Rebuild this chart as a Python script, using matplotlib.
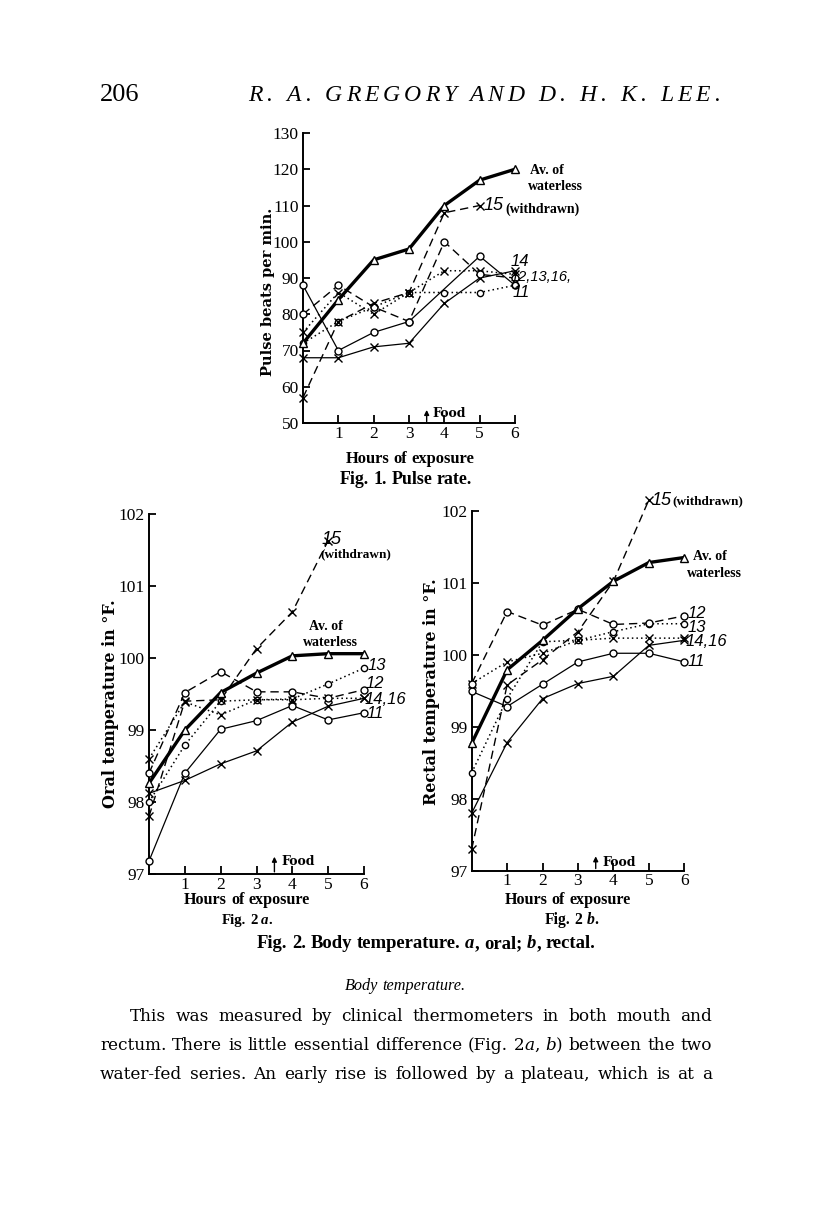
import re
import matplotlib
matplotlib.use("Agg")
import matplotlib.pyplot as plt

W, H = 816, 1221
plt.rcParams['font.family'] = ['Liberation Serif', 'DejaVu Serif']
WIDE = ['DejaVu Serif']
NARROW = ['Liberation Serif']

# ------------------------------------------------------------------ data
hours = [0, 1, 2, 3, 4, 5, 6]
hours_to5 = [0, 1, 2, 3, 4, 5]
hours_skip4 = [0, 1, 2, 3, 5, 6]
hour_ticks = [1, 2, 3, 4, 5, 6]

# Fig. 1  pulse rate (beats per min.)
pulse_ticks = [50, 60, 70, 80, 90, 100, 110, 120, 130]
pulse_av = [72, 84, 95, 98, 110, 117, 120]
pulse_15 = [57, 78, 83, 86, 108, 110]
pulse_12 = [80, 88, 82, 78, 100, 91, 90]
pulse_11 = [88, 70, 75, 78, 96, 88]
pulse_14 = [68, 68, 71, 72, 83, 90, 92]
pulse_16 = [75, 86, 80, 86, 92, 92, 91]
pulse_13 = [72, 78, 82, 86, 86, 86, 88]

# Fig. 2a  oral temperature (deg F)
temp_ticks = [97, 98, 99, 100, 101, 102]
oral_av = [98.26, 99.0, 99.52, 99.79, 100.03, 100.06, 100.06]
oral_15 = [97.8, 99.4, 99.42, 100.13, 100.64, 101.63]
oral_12 = [98.4, 99.52, 99.81, 99.53, 99.53, 99.44, 99.56]
oral_13 = [98.0, 98.79, 99.4, 99.42, 99.43, 99.64, 99.86]
oral_16 = [98.6, 99.39, 99.21, 99.42, 99.42, 99.44, 99.44]
oral_14 = [98.12, 98.3, 98.53, 98.71, 99.11, 99.33, 99.44]
oral_11 = [97.18, 98.4, 99.01, 99.13, 99.34, 99.14, 99.24]

# Fig. 2b  rectal temperature (deg F)
rect_av = [98.77, 99.79, 100.2, 100.64, 101.02, 101.28, 101.35]
rect_15 = [97.3, 99.58, 99.93, 100.32, 101.02, 102.15]
rect_12 = [99.6, 100.6, 100.41, 100.63, 100.42, 100.44, 100.54]
rect_13 = [98.36, 99.39, 100.18, 100.2, 100.32, 100.43, 100.43]
rect_16 = [99.6, 99.9, 100.02, 100.2, 100.23, 100.23, 100.23]
rect_11 = [99.49, 99.28, 99.59, 99.9, 100.02, 100.02, 99.9]
rect_14 = [97.8, 98.78, 99.39, 99.6, 99.7, 100.13, 100.2]

# ------------------------------------------------------------------ figure
fig = plt.figure(figsize=(W / 100, H / 100), dpi=100)
fig.patch.set_facecolor('white')
renderer = fig.canvas.get_renderer()

DASH = (0, (6, 3.5))
DOT = (0, (1, 2))
STY = {
    'av': dict(linestyle='-', lw=2.4, marker='^', ms=6, mfc='white', zorder=5),
    '15': dict(linestyle=DASH, lw=1.0, marker='x', ms=6, zorder=4),
    'dash_o': dict(linestyle=DASH, lw=1.0, marker='o', ms=5, mfc='white', zorder=4),
    'dot_o': dict(linestyle=DOT, lw=1.1, marker='o', ms=4.5, mfc='white', zorder=4),
    'dot_x': dict(linestyle=DOT, lw=1.1, marker='x', ms=6, zorder=4),
    'sol_o': dict(linestyle='-', lw=0.9, marker='o', ms=5, mfc='white', zorder=4),
    'sol_x': dict(linestyle='-', lw=0.9, marker='x', ms=6, zorder=4),
}


def series(ax, x, y, key):
    kw = dict(STY[key])
    ax.plot(x, y, color='black', mec='black', mew=1.0, clip_on=False, **kw)


def make_axes(x0, x6, ytop, ybot, ylim, yticks):
    ax = fig.add_axes([x0 / W, 1 - ybot / H, (x6 - x0) / W, (ybot - ytop) / H])
    ax.set_xlim(0, 6)
    ax.set_ylim(*ylim)
    ax.patch.set_alpha(0)
    for s in ('top', 'right'):
        ax.spines[s].set_visible(False)
    for s in ('left', 'bottom'):
        ax.spines[s].set_linewidth(1.4)
    ax.set_xticks(hour_ticks)
    ax.set_xticklabels([str(h) for h in hour_ticks])
    ax.set_yticks(yticks)
    ax.set_yticklabels([str(v) for v in yticks])
    ax.tick_params(axis='y', direction='in', length=5, width=1.3, pad=3, labelsize=12.5)
    ax.tick_params(axis='x', direction='in', length=6, width=1.3, pad=2, labelsize=12.5)
    return ax


def food(ax, y0, y1, tx, ty):
    ax.annotate('', xy=(3.5, y1), xytext=(3.5, y0),
                arrowprops=dict(arrowstyle='-|>', lw=1.0, color='black',
                                mutation_scale=7, shrinkA=0, shrinkB=0))
    ax.text(tx, ty, 'Food', fontsize=9, fontweight='bold', va='center', ha='left',
            family=WIDE)


# ---------------- Fig. 1
ax1 = make_axes(303, 515, 133, 423, (50, 130), pulse_ticks)
series(ax1, hours_skip4, pulse_11, 'sol_o')
series(ax1, hours, pulse_14, 'sol_x')
series(ax1, hours, pulse_13, 'dot_o')
series(ax1, hours, pulse_16, 'dot_x')
series(ax1, hours, pulse_12, 'dash_o')
series(ax1, hours_to5, pulse_15, '15')
series(ax1, hours, pulse_av, 'av')
food(ax1, 50.4, 53.6, 3.66, 52.6)

# ---------------- Fig. 2a
ax2 = make_axes(149, 364, 514, 874, (97, 102), temp_ticks)
series(ax2, hours, oral_11, 'sol_o')
series(ax2, hours, oral_14, 'sol_x')
series(ax2, hours, oral_13, 'dot_o')
series(ax2, hours, oral_16, 'dot_x')
series(ax2, hours, oral_12, 'dash_o')
series(ax2, hours_to5, oral_15, '15')
series(ax2, hours, oral_av, 'av')
food(ax2, 97.03, 97.24, 3.7, 97.17)

# ---------------- Fig. 2b
ax3 = make_axes(471.7, 684.3, 510.7, 870.7, (97, 102), temp_ticks)
series(ax3, hours, rect_11, 'sol_o')
series(ax3, hours, rect_14, 'sol_x')
series(ax3, hours, rect_13, 'dot_o')
series(ax3, hours, rect_16, 'dot_x')
series(ax3, hours, rect_12, 'dash_o')
series(ax3, hours_to5, rect_15, '15')
series(ax3, hours, rect_av, 'av')
food(ax3, 97.03, 97.2, 3.7, 97.12)


# ------------------------------------------------------------------ text helpers
def T(x, y, s, **kw):
    kw.setdefault('va', 'center')
    kw.setdefault('ha', 'left')
    return fig.text(x / W, 1 - y / H, s, **kw)


def measure(s, **kw):
    t = fig.text(0, 0, s, **kw)
    w = t.get_window_extent(renderer=renderer).width
    t.remove()
    return w


def parse_word(word, base_style):
    runs = []
    for p in re.split(r'(\*[^*]+\*)', word):
        if not p:
            continue
        if p.startswith('*'):
            runs.append((p[1:-1], 'italic'))
        else:
            runs.append((p, base_style))
    return runs


def line_widths(words, size, weight, style, family):
    ww = []
    for runs in words:
        ww.append([measure(s, fontsize=size, fontstyle=st, fontweight=weight,
                           family=family) for s, st in runs])
    sp = measure('a a', fontsize=size, fontweight=weight, fontstyle=style, family=family) - \
        measure('aa', fontsize=size, fontweight=weight, fontstyle=style, family=family)
    return ww, sp


def fit_size(text, size, width, weight='normal', style='normal', family=None):
    words = [parse_word(w, style) for w in text.split(' ')]
    ww, sp = line_widths(words, size, weight, style, family)
    total = sum(sum(w) for w in ww) + sp * (len(words) - 1)
    return size * width / total


def rich_line(text, baseline, size, weight='normal', style='normal',
              left=None, right=None, center=None, justify=False, fit=False,
              family=None):
    if family is None:
        family = WIDE
    if fit:
        size = fit_size(text, size, right - left, weight, style, family)
    words = [parse_word(w, style) for w in text.split(' ')]
    ww, sp = line_widths(words, size, weight, style, family)
    total = sum(sum(w) for w in ww) + sp * (len(words) - 1)
    if justify:
        gap = (right - left - sum(sum(w) for w in ww)) / max(1, len(words) - 1)
        x = left
    else:
        gap = sp
        x = center - total / 2 if center is not None else left
    for runs, wl in zip(words, ww):
        for (s, st), w in zip(runs, wl):
            fig.text(x / W, 1 - baseline / H, s, fontsize=size, fontstyle=st,
                     fontweight=weight, va='baseline', ha='left', family=family)
            x += w
        x += gap


def spaced_line(text, baseline, size, left, right, style='normal', family=None):
    """Letter-spaced line filling [left, right]."""
    kw = dict(fontsize=size, fontstyle=style, family=family)
    base = measure('ii', **kw)
    adv = [measure('i' + c + 'i', **kw) - base for c in text]
    last = measure(text[-1], **kw)
    extra = (right - left - sum(adv[:-1]) - last) / (len(text) - 1)
    x = left
    for c, a in zip(text, adv):
        if c != ' ':
            fig.text(x / W, 1 - baseline / H, c, va='baseline', ha='left', **kw)
        x += a + extra


NUM = dict(fontstyle='italic', family=['Liberation Sans'])

# ------------------------------------------------------------------ page text
rich_line('206', 101, 19, left=100, family=NARROW)
spaced_line('R. A. GREGORY AND D. H. K. LEE.', 101, 17, 248, 720,
            style='italic', family=NARROW)

# Fig. 1 labels
T(268, 292, 'Pulse beats per min.', rotation=90, ha='center', fontsize=10.5,
  fontweight='bold', family=WIDE)
rich_line('Hours of exposure', 463, 11, weight='bold', left=346, right=475, fit=True,
          family=NARROW)
rich_line('Fig. 1. Pulse rate.', 484, 11, weight='bold', left=340, right=472, fit=True,
          family=NARROW)
T(530, 170, 'Av. of', fontsize=10, fontweight='bold')
T(528, 186, 'waterless', fontsize=10, fontweight='bold')
T(484, 206, '15', fontsize=13, **NUM)
T(505, 209, '(withdrawn)', fontsize=10, fontweight='bold')
T(511, 262, '14', fontsize=12, **NUM)
T(511, 277, '12,13,16,', fontsize=10.5, **NUM)
T(513, 293, '11', fontsize=12, **NUM)

# Fig. 2a labels
T(111, 704, 'Oral temperature in °F.', rotation=90, ha='center', fontsize=11.5,
  fontweight='bold', family=WIDE)
rich_line('Hours of exposure', 904, 11, weight='bold', left=184, right=310, fit=True,
          family=NARROW)
rich_line('Fig. 2 *a*.', 924, 11, weight='bold', left=222, right=272, fit=True,
          family=NARROW)
T(322, 540, '15', fontsize=13, **NUM)
T(320, 554, '(withdrawn)', fontsize=9.5, fontweight='bold')
T(309, 627, 'Av. of', fontsize=10, fontweight='bold')
T(303, 643, 'waterless', fontsize=10, fontweight='bold')
T(368, 665, '13', fontsize=12, **NUM)
T(366, 683, '12', fontsize=12, **NUM)
T(365, 700, '14,16', fontsize=12, **NUM)
T(367, 714, '11', fontsize=12, **NUM)

# Fig. 2b labels
T(432, 692, 'Rectal temperature in °F.', rotation=90, ha='center', fontsize=11.5,
  fontweight='bold', family=WIDE)
rich_line('Hours of exposure', 904, 11, weight='bold', left=505, right=631, fit=True,
          family=NARROW)
rich_line('Fig. 2 *b*.', 924, 11, weight='bold', left=545, right=598, fit=True,
          family=NARROW)
T(652, 500, '15', fontsize=13, **NUM)
T(672, 501, '(withdrawn)', fontsize=9.5, fontweight='bold')
T(693, 557, 'Av. of', fontsize=10, fontweight='bold')
T(687, 573, 'waterless', fontsize=10, fontweight='bold')
T(688, 613, '12', fontsize=12, **NUM)
T(688, 627, '13', fontsize=12, **NUM)
T(686, 642, '14,16', fontsize=12, **NUM)
T(688, 662, '11', fontsize=12, **NUM)

# captions and body
rich_line('Fig. 2. Body temperature. *a*, oral; *b*, rectal.', 948, 11, weight='bold',
          left=257, right=596, fit=True, family=NARROW)
rich_line('Body temperature.', 990, 14, style='italic', left=345, right=466, fit=True,
          family=NARROW)
BODY2 = 'rectum. There is little essential difference (Fig. 2*a*, *b*) between the two'
body_size = fit_size(BODY2, 12, 606, family=WIDE)
rich_line('This was measured by clinical thermometers in both mouth and', 1021,
          body_size, left=130, right=712, justify=True)
rich_line(BODY2, 1050, body_size, left=100, right=712, justify=True)
rich_line('water-fed series. An early rise is followed by a plateau, which is at a',
          1079, body_size, left=100, right=712, justify=True)

fig.savefig('out.png', dpi=100, facecolor='white')
